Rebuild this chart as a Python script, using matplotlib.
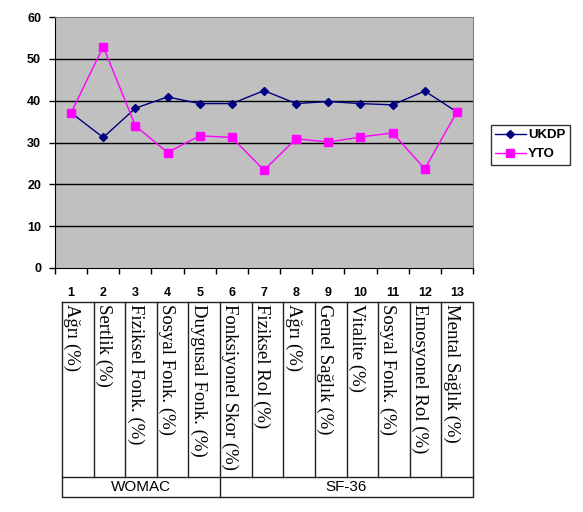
import matplotlib.pyplot as plt
import numpy as np

# values
categories = list(range(1, 14))
ukdp = [37.1, 31.2, 38.2, 40.9, 39.3, 39.3, 42.4, 39.3, 39.8, 39.3, 39.0, 42.3, 37.3]
yto = [37.1, 52.9, 34.0, 27.6, 31.6, 31.2, 23.4, 30.9, 30.1, 31.3, 32.3, 23.7, 37.3]
labels = ['Ağrı (%)', 'Sertlik (%)', 'Fiziksel Fonk. (%)', 'Sosyal Fonk. (%)',
          'Duygusal Fonk. (%)', 'Fonksiyonel Skor (%)', 'Fiziksel Rol (%)', 'Ağrı (%)',
          'Genel Sağlık (%)', 'Vitalite (%)', 'Sosyal Fonk. (%)', 'Emosyonel Rol (%)',
          'Mental Sağlık (%)']
groups = ['WOMAC', 'SF-36']
group_sizes = [5, 8]

W, H = 583, 512
fig = plt.figure(figsize=(W / 100, H / 100), dpi=100)

def fx(px):
    return px / W

def fy(py):
    return 1 - py / H

ax = fig.add_axes([fx(55), fy(268), fx(473) - fx(55), fy(17) - fy(268)])
ax.set_facecolor('#C0C0C0')
ax.plot(categories, ukdp, color='#000080', marker='D', markersize=4.5, lw=1, label='UKDP', zorder=3)
ax.plot(categories, yto, color='#FF00FF', marker='s', markersize=6, lw=1, label='YTO', zorder=3)

ax.set_xlim(0.5, 13.5)
ax.set_ylim(0, 60)
ax.set_yticks(range(0, 61, 10))
ax.set_xticks(categories)
ax.set_xticks(np.arange(0.5, 14, 1), minor=True)
ax.tick_params(axis='x', which='major', length=0, pad=14)
ax.tick_params(axis='x', which='minor', length=4, direction='out', width=1)
ax.tick_params(axis='y', length=4, direction='out', width=1, pad=6)
for t in ax.get_xticklabels() + ax.get_yticklabels():
    t.set_fontweight('bold')
    t.set_fontsize(9)
    t.set_family('Liberation Sans')
for y in range(10, 60, 10):
    ax.axhline(y, color='black', lw=1, zorder=1)
ax.spines['left'].set_color('black')
ax.spines['bottom'].set_color('black')
ax.spines['top'].set_color('#808080')
ax.spines['right'].set_color('#808080')

leg = fig.legend(loc='upper left', bbox_to_anchor=(fx(484), fy(118)), frameon=True,
                 fancybox=False, edgecolor='black', borderpad=0.35, handlelength=2.3,
                 handletextpad=0.2, labelspacing=0.5,
                 prop={'family': 'Liberation Sans', 'weight': 'bold', 'size': 9.5})
leg.get_frame().set_linewidth(1)

# table under the axis
tl, tr = 62, 473
top, mid, bot = 302, 477, 497
cw = (tr - tl) / len(labels)
lk = dict(color='#222222', lw=1, transform=fig.transFigure)
fig.add_artist(plt.Line2D([fx(tl), fx(tr), fx(tr), fx(tl), fx(tl)],
                          [fy(top), fy(top), fy(bot), fy(bot), fy(top)], **lk))
fig.add_artist(plt.Line2D([fx(tl), fx(tr)], [fy(mid), fy(mid)], **lk))
for i in range(1, len(labels)):
    x = tl + i * cw
    fig.add_artist(plt.Line2D([fx(x), fx(x)], [fy(top), fy(mid)], **lk))
for i, lab in enumerate(labels):
    fig.text(fx(tl + i * cw + 10), fy(top + 2), lab, rotation=270, ha='center', va='top',
             family='Liberation Serif', fontsize=13.5)

start = 0
for g, n in zip(groups, group_sizes):
    x0 = tl + start * cw
    x1 = tl + (start + n) * cw
    if start > 0:
        fig.add_artist(plt.Line2D([fx(x0), fx(x0)], [fy(mid), fy(bot)], **lk))
    fig.text(fx((x0 + x1) / 2), fy((mid + bot) / 2), g, ha='center', va='center',
             family='Liberation Sans', fontsize=11)
    start += n

fig.savefig('out.png', dpi=100)
